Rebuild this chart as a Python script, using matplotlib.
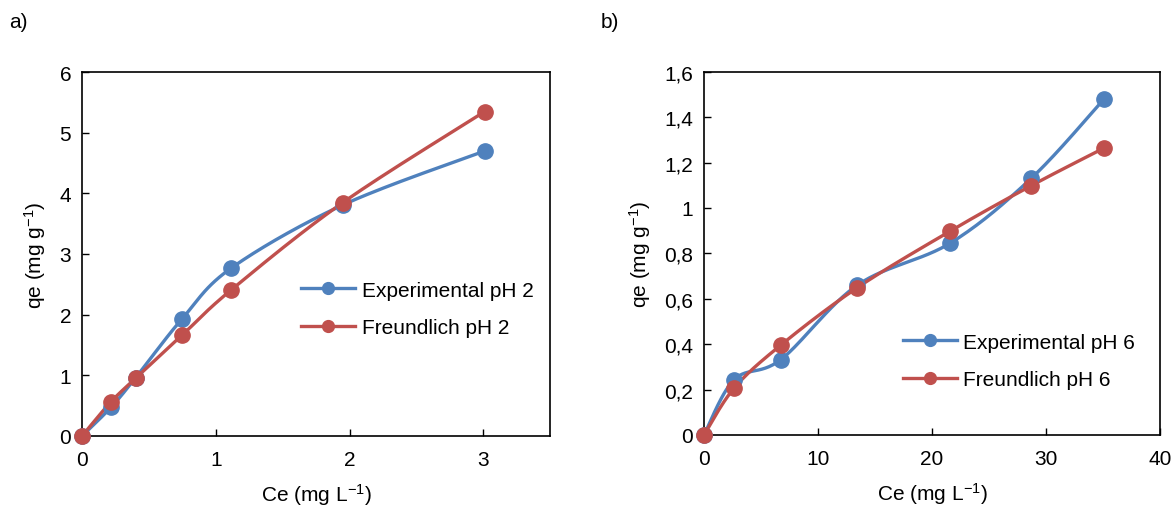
import numpy as np
import matplotlib
matplotlib.use("Agg")
import matplotlib.pyplot as plt
from matplotlib.lines import Line2D

plt.rcParams['font.family'] = ['Liberation Sans', 'DejaVu Sans']
plt.rcParams['mathtext.fontset'] = 'custom'
plt.rcParams['mathtext.rm'] = 'Liberation Sans'

# panel a) pH 2
ce_ph2 = [0, 0.215, 0.40, 0.747, 1.116, 1.95, 3.01]
qe_exp_ph2 = [0, 0.47, 0.96, 1.93, 2.77, 3.81, 4.70]
qe_fr_ph2 = [0, 0.56, 0.95, 1.66, 2.41, 3.85, 5.35]

# panel b) pH 6
ce_ph6 = [0, 2.65, 6.74, 13.45, 21.6, 28.7, 35.1]
qe_exp_ph6 = [0, 0.244, 0.332, 0.66, 0.845, 1.13, 1.48]
qe_fr_ph6 = [0, 0.207, 0.396, 0.649, 0.898, 1.098, 1.264]

blue = '#4F81BD'
red = '#C0504D'
fs = 15


def smooth(x, y, n=30):
    # catmull-rom like excel "smoothed line"
    x = np.asarray(x, float)
    y = np.asarray(y, float)
    px = np.concatenate([[x[0]], x, [x[-1]]])
    py = np.concatenate([[y[0]], y, [y[-1]]])
    xs, ys = [], []
    t = np.linspace(0, 1, n)
    for i in range(1, len(px) - 2):
        p0 = np.array([px[i], py[i]])
        p3 = np.array([px[i + 1], py[i + 1]])
        c1 = p0 + (np.array([px[i + 1], py[i + 1]]) - np.array([px[i - 1], py[i - 1]])) / 6
        c2 = p3 - (np.array([px[i + 2], py[i + 2]]) - np.array([px[i], py[i]])) / 6
        b = ((1 - t) ** 3)[:, None] * p0 + (3 * (1 - t) ** 2 * t)[:, None] * c1 \
            + (3 * (1 - t) * t ** 2)[:, None] * c2 + (t ** 3)[:, None] * p3
        xs.extend(b[:, 0])
        ys.extend(b[:, 1])
    return xs, ys


def panel(ax, x, y1, y2, lab1, lab2, xmax, ymax, yticks, yfmt, legloc):
    for y, c in [(y1, blue), (y2, red)]:
        sx, sy = smooth(x, y)
        ax.plot(sx, sy, color=c, lw=2.4, solid_capstyle='round', zorder=2)
        ax.plot(x, y, 'o', color=c, ms=11, zorder=3, clip_on=False)
    ax.set_xlim(0, xmax)
    ax.set_ylim(0, ymax)
    ax.set_yticks(yticks)
    ax.set_yticklabels([yfmt(v) for v in yticks])
    ax.tick_params(direction='in', length=5, width=1, labelsize=fs, pad=8, colors='black')
    ax.tick_params(axis='x', pad=10)
    for s in ax.spines.values():
        s.set_linewidth(1.2)
    ax.set_xlabel('Ce (mg L$\\mathregular{^{-1}}$)', fontsize=fs, labelpad=9)
    ax.set_ylabel('qe (mg g$\\mathregular{^{-1}}$)', fontsize=fs, labelpad=8)
    handles = [Line2D([], [], color=blue, lw=2.4, marker='o', ms=8.5),
               Line2D([], [], color=red, lw=2.4, marker='o', ms=8.5)]
    ax.legend(handles, [lab1, lab2], loc='upper left', bbox_to_anchor=legloc,
              frameon=False, fontsize=fs, handlelength=2.6, handletextpad=0.3,
              labelspacing=0.9, borderaxespad=0)


fig = plt.figure(figsize=(11.74, 5.06), dpi=100)
W, H = 1174, 506
ax1 = fig.add_axes([82.3 / W, (H - 436.7) / H, (550 - 82.3) / W, (436.7 - 73.3) / H])
ax2 = fig.add_axes([704 / W, (H - 436) / H, (1160 - 704) / W, (436 - 72.7) / H])

panel(ax1, ce_ph2, qe_exp_ph2, qe_fr_ph2, 'Experimental pH 2', 'Freundlich pH 2',
      3.5, 6, [0, 1, 2, 3, 4, 5, 6], lambda v: '%d' % v, (0.45, 0.45))
ax1.set_xticks([0, 1, 2, 3])

panel(ax2, ce_ph6, qe_exp_ph6, qe_fr_ph6, 'Experimental pH 6', 'Freundlich pH 6',
      40, 1.6, [0, 0.2, 0.4, 0.6, 0.8, 1.0, 1.2, 1.4, 1.6],
      lambda v: ('%g' % round(v, 1)).replace('.', ','), (0.418, 0.305))
ax2.set_xticks([0, 10, 20, 30, 40])

fig.text(9 / W, 1 - 22 / H, 'a)', fontsize=fs, va='center')
fig.text(601 / W, 1 - 22 / H, 'b)', fontsize=fs, va='center')

fig.savefig('out.png', dpi=100)
